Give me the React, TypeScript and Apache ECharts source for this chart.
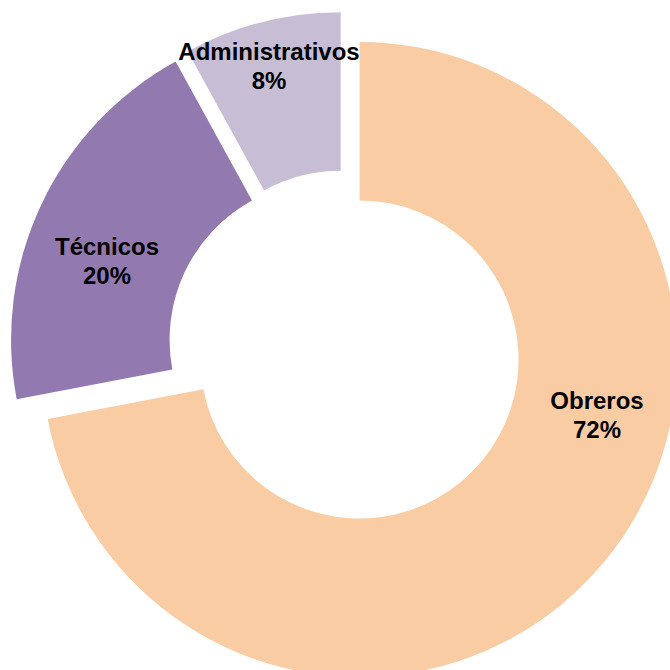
import React, { useEffect, useRef } from "react";
import * as echarts from "echarts";

const categories = ["Obreros", "Técnicos", "Administrativos"];
const values = [72, 20, 8];
const colors = ["#FACCA4", "#9279B0", "#C7BED6"];
const labelPositions = [
  [597, 415],
  [107, 260.5],
  [269, 66],
];

export default function App() {
  const ref = useRef<HTMLDivElement>(null);
  useEffect(() => {
    document.body.style.margin = "0";
    const chart = echarts.init(ref.current!, null, { renderer: "svg" });
    const total = values.reduce((a, b) => a + b, 0);
    const data = categories.map((name, i) => ({
      name,
      value: values[i],
      selected: true,
      itemStyle: { color: colors[i] },
      select: { itemStyle: { color: colors[i], borderWidth: 0 } },
    }));
    const labels = categories.map((name, i) => ({
      type: "text",
      x: labelPositions[i][0],
      y: labelPositions[i][1],
      z: 100,
      style: {
        text: `${name}\n${Math.round((values[i] / total) * 100)}%`,
        fontFamily: "Liberation Sans, Arial, sans-serif",
        fontWeight: "bold",
        fontSize: 24,
        lineHeight: 29,
        fill: "#000",
        align: "center",
        verticalAlign: "middle",
      },
    }));
    chart.setOption({
      animation: false,
      graphic: labels,
      series: [
        {
          type: "pie",
          center: [345.3, 347.7],
          radius: [159, 317.5],
          startAngle: 90,
          clockwise: true,
          selectedMode: "multiple",
          selectedOffset: 18.5,
          avoidLabelOverlap: false,
          silent: true,
          data,
          label: { show: false },
          labelLine: { show: false },
        },
      ],
    });
    return () => chart.dispose();
  }, []);
  return (
    <div
      ref={ref}
      style={{ position: "absolute", left: 0, top: 0, width: 670, height: 670 }}
    />
  );
}
